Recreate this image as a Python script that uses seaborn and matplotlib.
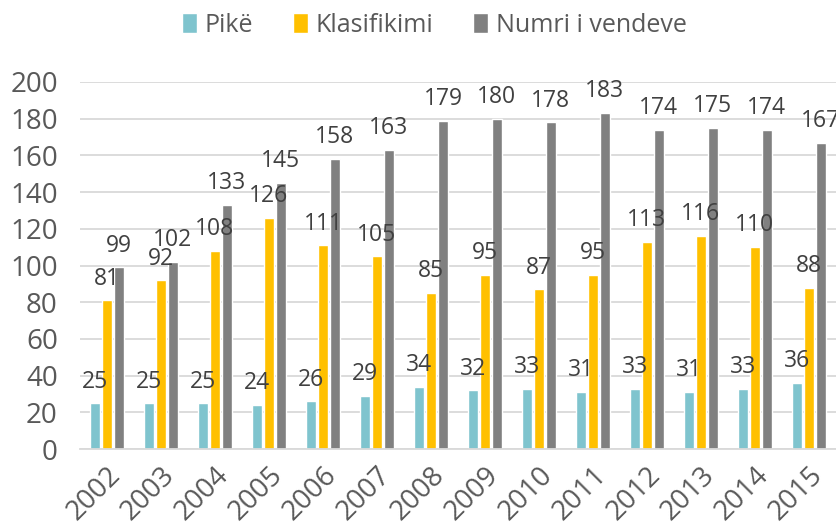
import matplotlib
matplotlib.use("Agg")
import matplotlib.pyplot as plt
import seaborn as sns
import pandas as pd

years = ["2002", "2003", "2004", "2005", "2006", "2007", "2008",
         "2009", "2010", "2011", "2012", "2013", "2014", "2015"]
pike = [25, 25, 25, 24, 26, 29, 34, 32, 33, 31, 33, 31, 33, 36]
klasifikimi = [81, 92, 108, 126, 111, 105, 85, 95, 87, 95, 113, 116, 110, 88]
numri = [99, 102, 133, 145, 158, 163, 179, 180, 178, 183, 174, 175, 174, 167]
series_names = ["Pikë", "Klasifikimi", "Numri i vendeve"]
colors = ["#7FC4CE", "#FFC000", "#808080"]

rows = []
for name, vals in zip(series_names, [pike, klasifikimi, numri]):
    for y, v in zip(years, vals):
        rows.append({"Viti": y, "Seria": name, "Vlera": v})
df = pd.DataFrame(rows)

sns.set_theme(style="white")
plt.rcParams["font.family"] = ["Open Sans", "DejaVu Sans"]
text_color = "#595959"

fig = plt.figure(figsize=(8.37, 5.29), dpi=100)
ax = fig.add_axes([0.0956, 0.151, 0.903, 0.694])

sns.barplot(data=df, x="Viti", y="Vlera", hue="Seria", hue_order=series_names,
            palette=colors, width=0.667, gap=0.2, saturation=1, ax=ax,
            errorbar=None, legend=True)

for cont in ax.containers:
    ax.bar_label(cont, padding=7, fontsize=16.5, color="#404040")

ax.set_ylim(0, 200)
ax.set_yticks(range(0, 201, 20))
ax.set_xlim(-0.5, len(years) - 0.5)
ax.yaxis.grid(True, color="#D9D9D9", linewidth=1.3)
ax.set_axisbelow(True)
for s in ["top", "right", "left"]:
    ax.spines[s].set_visible(False)
ax.spines["bottom"].set_color("#D9D9D9")
ax.spines["bottom"].set_linewidth(1.3)
ax.set_xlabel("")
ax.set_ylabel("")
ax.tick_params(axis="both", length=0, colors=text_color, labelsize=20)
ax.tick_params(axis="y", pad=16)
plt.setp(ax.get_xticklabels(), rotation=45, ha="right", rotation_mode="anchor")
ax.tick_params(axis="x", pad=9)

handles, labels = ax.get_legend_handles_labels()
ax.legend(handles, labels, loc="center", bbox_to_anchor=(0.469, 1.155),
          ncol=3, frameon=False, fontsize=18, labelcolor=text_color,
          handlelength=0.6, handleheight=0.9, handletextpad=0.3, columnspacing=1.6)

fig.savefig("out.png", dpi=100)
